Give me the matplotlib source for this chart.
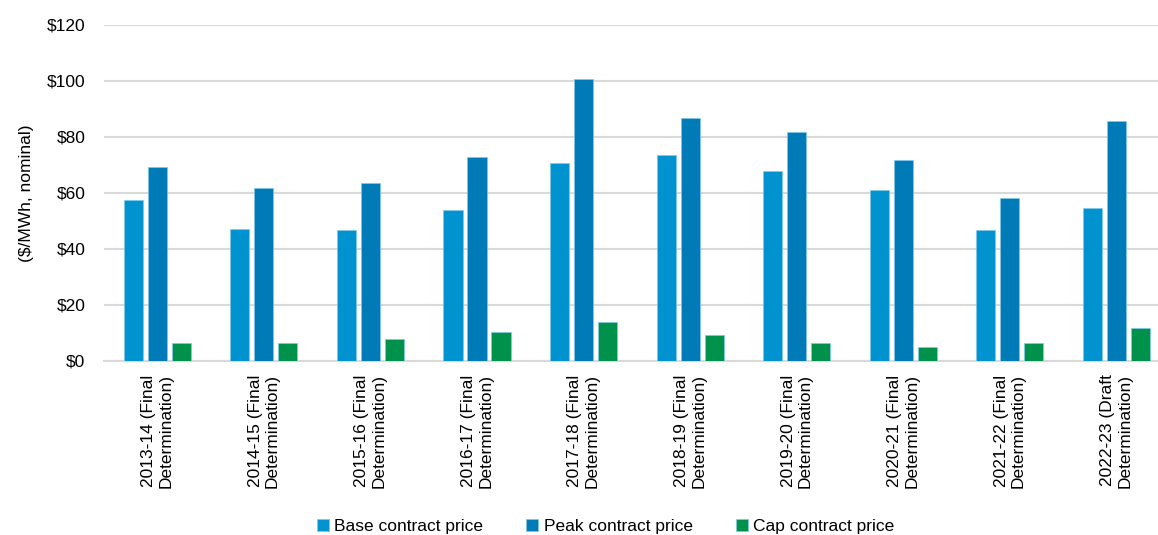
import matplotlib.pyplot as plt
import numpy as np

plt.rcParams['font.family'] = ['Liberation Sans', 'DejaVu Sans']

categories = ['2013-14 (Final\nDetermination)', '2014-15 (Final\nDetermination)',
              '2015-16 (Final\nDetermination)', '2016-17 (Final\nDetermination)',
              '2017-18 (Final\nDetermination)', '2018-19 (Final\nDetermination)',
              '2019-20 (Final\nDetermination)', '2020-21 (Final\nDetermination)',
              '2021-22 (Final\nDetermination)', '2022-23 (Draft\nDetermination)']
base = [57.5, 47.2, 46.7, 53.8, 70.5, 73.4, 67.9, 61.0, 46.8, 54.6]
peak = [69.3, 61.6, 63.5, 72.7, 100.8, 86.8, 81.8, 71.8, 58.1, 85.8]
cap = [6.4, 6.3, 7.6, 10.2, 13.7, 9.0, 6.4, 5.0, 6.3, 11.8]

series = [('Base contract price', base, '#0093D0'),
          ('Peak contract price', peak, '#007BB8'),
          ('Cap contract price', cap, '#00924A')]

fig = plt.figure(figsize=(11.58, 5.35), dpi=100)
ax = fig.add_axes([104 / 1158, 1 - 360.5 / 535, 1 - 104 / 1158, 335.5 / 535])

x = np.arange(len(categories))
step = 0.225
for i, (name, vals, col) in enumerate(series):
    ax.bar(x + (i - 1) * step, vals, width=0.18, color=col, label=name,
           edgecolor='#7FC8EA', linewidth=0.5, zorder=3)

ax.set_ylim(0, 120)
ax.set_xlim(-0.5, 9.39)
ax.set_yticks(range(0, 121, 20))
ax.set_yticklabels(['$%d' % v for v in range(0, 121, 20)], fontsize=12.5)
ax.yaxis.grid(True, color='#D9D9D9', linewidth=1.5, zorder=0)
ax.tick_params(length=0)
ax.tick_params(axis='y', pad=13.5)
for s in ['top', 'right', 'left']:
    ax.spines[s].set_visible(False)
ax.spines['bottom'].set_color('#D9D9D9')
ax.spines['bottom'].set_linewidth(1.5)

ax.set_xticks(x)
ax.set_xticklabels(categories, rotation=90, fontsize=12.5, ha='center',
                   va='top', multialignment='right')
ax.tick_params(axis='x', pad=10)

ax.set_ylabel('($/MWh, nominal)', fontsize=12.5)
ax.yaxis.set_label_coords(-70 / 1054, 0.5)

fig.legend(loc='lower center', bbox_to_anchor=(0.523, -0.028), ncol=3,
           frameon=False, fontsize=12.5, handlelength=0.7, handleheight=0.7,
           handletextpad=0.3, columnspacing=2.5)

fig.savefig('out.png', dpi=100)
